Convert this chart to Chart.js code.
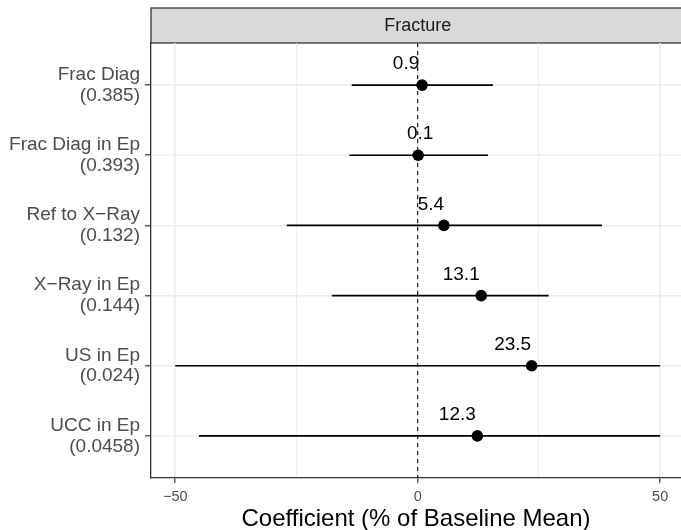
<!DOCTYPE html>
<html>
<head>
<meta charset="utf-8">
<script src="https://cdn.jsdelivr.net/npm/chart.js@4/dist/chart.umd.min.js"></script>
<style>
  html, body { margin: 0; padding: 0; background: #fff; overflow: hidden; }
  canvas { display: block; }
</style>
</head>
<body>
<canvas id="coefChart" width="681" height="530"></canvas>
<script>
// Outcomes (top to bottom) with p-values shown under each name
const categories = ["Frac Diag", "Frac Diag in Ep", "Ref to X\u2212Ray", "X\u2212Ray in Ep", "US in Ep", "UCC in Ep"];
const pValues = ["(0.385)", "(0.393)", "(0.132)", "(0.144)", "(0.024)", "(0.0458)"];

// Coefficient (% of baseline mean) and confidence bounds
const estimates = [0.9, 0.1, 5.4, 13.1, 23.5, 12.3];
const lower = [-13.6, -14.1, -27.0, -17.7, -50, -45.1];
const upper = [15.5, 14.5, 38.0, 27.0, 50, 50];

const xTicks = [-50, -25, 0, 25, 50];
const xMajor = [-50, 0, 50];
const panelTitle = "Fracture";

const FONT = "'Liberation Sans', Arial, Helvetica, sans-serif";
const minus = v => String(v).replace("-", "\u2212");
const isMajor = v => xMajor.includes(v);

// facet strip, zero reference line and value labels
const decorations = {
  id: "decorations",
  beforeDraw(chart) {
    const { ctx, chartArea } = chart;
    const x0 = chart.scales.x.getPixelForValue(0);
    ctx.save();
    ctx.fillStyle = "#d9d9d9";
    ctx.fillRect(chartArea.left, 8, chart.width, chartArea.top - 8);
    ctx.strokeStyle = "#333333";
    ctx.lineWidth = 1.3;
    ctx.strokeRect(chartArea.left, 8, chart.width + 10, chartArea.top - 8);
    ctx.fillStyle = "#1a1a1a";
    ctx.font = "18px " + FONT;
    ctx.textAlign = "center";
    ctx.textBaseline = "middle";
    ctx.fillText(panelTitle, x0, (8 + chartArea.top) / 2 + 1);
    ctx.restore();
  },
  beforeDatasetsDraw(chart) {
    const { ctx, chartArea } = chart;
    const x0 = chart.scales.x.getPixelForValue(0);
    ctx.save();
    ctx.strokeStyle = "#000";
    ctx.lineWidth = 1;
    ctx.setLineDash([4, 4]);
    ctx.beginPath();
    ctx.moveTo(x0, chartArea.top);
    ctx.lineTo(x0, chartArea.bottom);
    ctx.stroke();
    ctx.restore();
  },
  afterDatasetsDraw(chart, args, opts) {
    const { ctx } = chart;
    const xs = chart.scales.x, ys = chart.scales.y;
    ctx.save();
    ctx.fillStyle = "#000";
    ctx.font = "19px " + FONT;
    ctx.textAlign = "center";
    ctx.textBaseline = "middle";
    estimates.forEach((v, i) => {
      const px = xs.getPixelForValue(v) + (opts.shift[i] || 0);
      const py = ys.getPixelForValue(i) - 21;
      ctx.fillText(v.toFixed(1), px, py);
    });
    ctx.restore();
  }
};

const intervalSets = categories.map((c, i) => ({
  type: "line",
  data: [{ x: lower[i], y: i }, { x: upper[i], y: i }],
  borderColor: "#000",
  borderWidth: 1.6,
  pointRadius: 0,
  fill: false
}));

new Chart(document.getElementById("coefChart").getContext("2d"), {
  type: "scatter",
  data: {
    datasets: [
      ...intervalSets,
      {
        type: "scatter",
        data: estimates.map((v, i) => ({ x: v, y: i })),
        backgroundColor: "#000",
        borderColor: "#000",
        borderWidth: 0,
        pointRadius: 5.8
      }
    ]
  },
  plugins: [decorations],
  options: {
    responsive: false,
    animation: false,
    devicePixelRatio: 1,
    // panel runs right up to the canvas edge
    layout: { autoPadding: false, padding: { top: 43, right: 0, bottom: 0, left: 0 } },
    plugins: {
      legend: { display: false },
      tooltip: { enabled: false },
      decorations: { shift: [-16, 2, -13, -20, -19, -20] }
    },
    scales: {
      x: {
        type: "linear",
        min: -55,
        max: 54.3,
        afterBuildTicks: scale => { scale.ticks = xTicks.map(v => ({ value: v })); },
        afterFit: scale => {
          scale.height = 52;
          scale.paddingLeft = 0;
          scale.paddingRight = 0;
        },
        grid: {
          color: "#ebebeb",
          lineWidth: ctx => isMajor(ctx.tick.value) ? 1.6 : 0.8,
          tickColor: ctx => isMajor(ctx.tick.value) ? "#333333" : "rgba(0,0,0,0)",
          tickLength: 5,
          tickWidth: 1.2
        },
        border: { display: true, color: "#333333", width: 1.3 },
        ticks: {
          autoSkip: false,
          maxRotation: 0,
          padding: 5,
          color: "#4d4d4d",
          font: { family: FONT, size: 14.5 },
          callback: v => isMajor(v) ? minus(v) : ""
        },
        title: {
          display: true,
          text: "Coefficient (% of Baseline Mean)",
          color: "#000",
          font: { family: FONT, size: 24, lineHeight: 0.85 },
          padding: 0
        }
      },
      y: {
        type: "linear",
        reverse: true,
        min: -0.6,
        max: 5.6,
        afterBuildTicks: scale => { scale.ticks = categories.map((c, i) => ({ value: i })); },
        afterFit: scale => {
          scale.width = 151;
          scale.paddingTop = 0;
          scale.paddingBottom = 0;
        },
        grid: {
          color: "#ebebeb",
          lineWidth: 1.6,
          tickColor: "#333333",
          tickLength: 6,
          tickWidth: 1.2
        },
        border: { display: true, color: "#333333", width: 1.3 },
        ticks: {
          autoSkip: false,
          padding: 5,
          color: "#4d4d4d",
          font: { family: FONT, size: 19, lineHeight: 1.1 },
          callback: (v, idx) => [categories[idx], pValues[idx]]
        }
      }
    }
  }
});
</script>
</body>
</html>
